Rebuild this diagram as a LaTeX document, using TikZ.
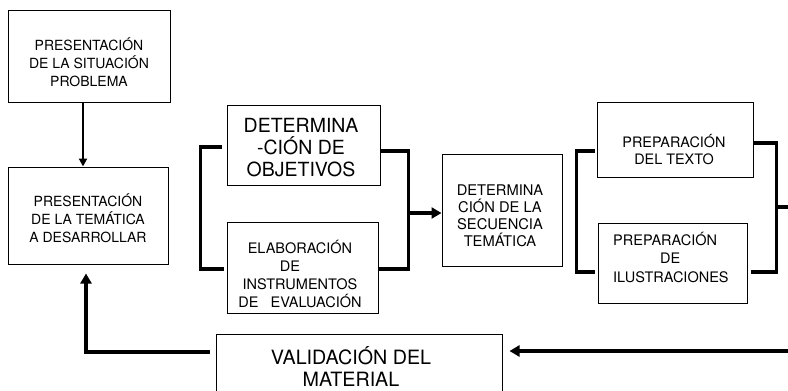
\documentclass[tikz,border=0pt]{standalone}
\usepackage{fontspec}
\setmainfont{TeX Gyre Heros}
\usetikzlibrary{arrows.meta}
\newcommand\myfs[2]{\fontsize{#1}{#2}\selectfont}
\begin{document}
\begin{tikzpicture}[x=1pt,y=-1pt,
  box/.style={draw, line width=1pt, inner sep=0pt},
  txt/.style={inner sep=0pt, align=center},
  conn/.style={line width=3.5pt},
  arr/.style={line width=3.5pt, -{Triangle[width=11pt,length=10pt]}},
  thinarr/.style={line width=2.5pt, -{Triangle[width=8pt,length=8pt]}}]
\useasboundingbox (0,0) rectangle (788,391);
\clip (0,0) rectangle (788,391);
% boxes
\node[box, minimum width=162pt, minimum height=92pt] (b1) at (89,56) {};
\node[box, minimum width=160pt, minimum height=97pt] (b2) at (88,215.5) {};
\node[box, minimum width=153pt, minimum height=80pt] (bObj) at (303.5,145) {};
\node[box, minimum width=151pt, minimum height=91pt] (bElab) at (302.5,267.5) {};
\node[box, minimum width=120pt, minimum height=112pt] (bSeq) at (502,210) {};
\node[box, minimum width=156pt, minimum height=75pt] (bTxt) at (675,139.5) {};
\node[box, minimum width=149pt, minimum height=80pt] (bIlu) at (672.5,263) {};
\node[box, minimum width=286pt, minimum height=64pt] (bVal) at (359,366) {};
% texts
\node[txt, font=\myfs{14}{18}] (t1) at (89,62) {PRESENTACIÓN\\DE LA SITUACIÓN\\PROBLEMA};
\node[txt, font=\myfs{14}{18}] (t2) at (88,218) {PRESENTACIÓN\\DE LA TEMÁTICA\\A DESARROLLAR};
\node[txt, font=\myfs{19.5}{22}] (tObj) at (301,148) {DETERMINA\\-CIÓN DE\\OBJETIVOS};
\node[txt, font=\myfs{14.5}{17.7}] (tElab) at (300,274) {ELABORACIÓN\\\hspace*{-20pt}DE\\INSTRUMENTOS\\DE\hspace{12pt}EVALUACIÓN};
\node[txt, font=\myfs{14.7}{17}] (tSeq) at (500,216) {DETERMINA\\CIÓN DE LA\\SECUENCIA\\TEMÁTICA};
\node[txt, font=\myfs{14.4}{17}] (tTxt) at (674,150) {PREPARACIÓN\\DEL TEXTO};
\node[txt, align=left, anchor=west, font=\myfs{14.5}{18.5}] (tIlu) at (613,257) {PREPARACIÓN\\\hspace*{47pt}DE\\ILUSTRACIONES};
\node[txt, font=\myfs{19.7}{22}] (tVal) at (351,366) {VALIDACIÓN DEL\\MATERIAL};
% connectors
\draw[thinarr] ([xshift=-6pt]b1.south) -- ([xshift=-6pt]b1.south |- b2.north);
\draw[conn] ([shift={(-5,2)}]bObj.west) -- ++(-21,0) |- ([shift={(-3,1.5)}]bElab.west);
\draw[conn] ([shift={(0,6)}]bObj.east) -- ++(28,0) |- ([shift={(0,1.5)}]bElab.east);
\coordinate (jL) at (408,213);
\draw[arr] (jL) -- (jL -| bSeq.west);
\draw[conn] ([shift={(-2,11.5)}]bTxt.west) -- ++(-18,0) |- ([shift={(-3,9)}]bIlu.west);
\draw[conn] ([shift={(0,3.5)}]bTxt.east) -- ++(23,0) |- ([shift={(3,9)}]bIlu.east);
\coordinate (jR) at (776,207);
\coordinate (eR) at (795,207);
\draw[conn] (jR) -- (eR);
\coordinate (eB) at (795,351);
\coordinate (vE) at ([xshift=7pt]bVal.east);
\draw[arr] (eB) -- (eB -| vE);
\draw[arr] ([shift={(-6,-14)}]bVal.west) -| ([shift={(-2,9)}]b2.south);
\end{tikzpicture}
\end{document}
